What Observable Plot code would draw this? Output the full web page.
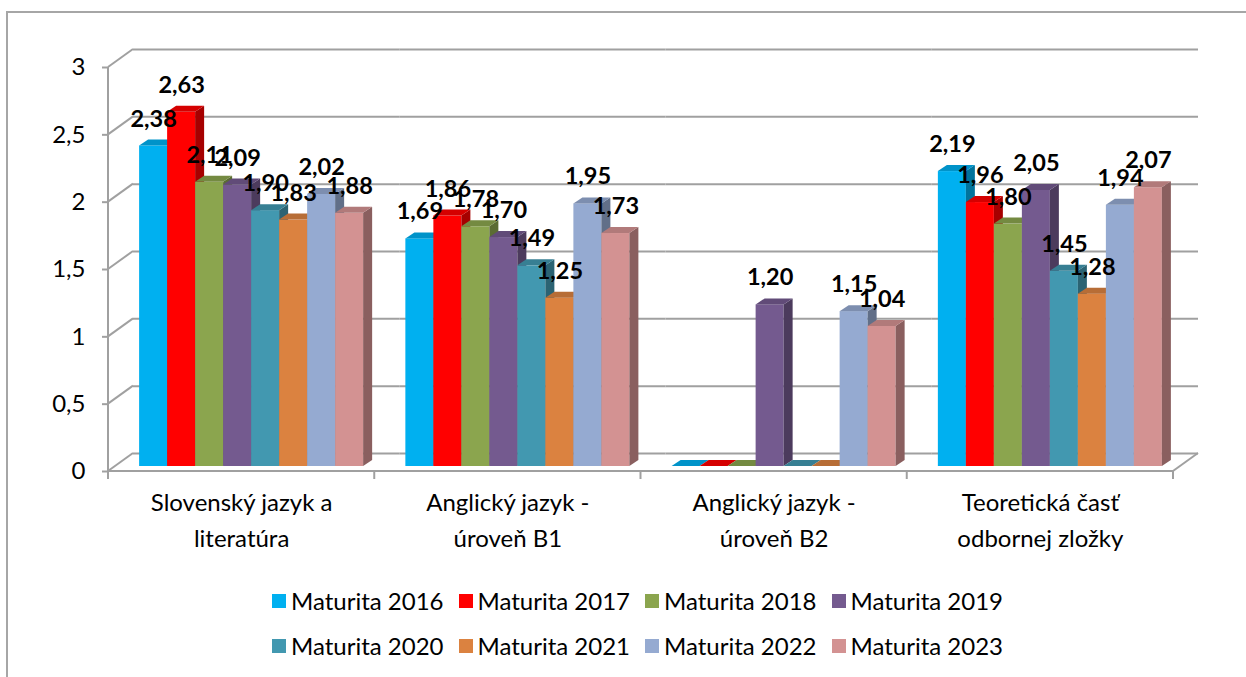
<!DOCTYPE html>
<html>
<head>
<meta charset="utf-8">
<script src="https://cdn.jsdelivr.net/npm/d3@7"></script>
<script src="https://cdn.jsdelivr.net/npm/@observablehq/plot@0.6"></script>
<style>
  html, body { margin: 0; padding: 0; background: #fff; overflow: hidden; }
  body { width: 1246px; height: 677px; position: relative; font-family: Lato, "Open Sans", sans-serif; }
  #frame { position: absolute; left: 6px; top: 11px; width: 1300px; height: 700px;
           border-left: 2px solid #a6a6a6; border-top: 2px solid #a6a6a6; }
  #chart { position: absolute; left: 0; top: 0; }
  #legend { position: absolute; left: 272px; top: 578px; display: grid;
            grid-template-columns: repeat(4, 186.5px); grid-auto-rows: 45px; }
  .item { display: flex; align-items: center; font-size: 24px; color: #000; white-space: nowrap; }
  .sw { width: 14px; height: 14px; margin-right: 5px; flex: none; }
</style>
</head>
<body>
<div id="frame"></div>
<div id="chart"></div>
<div id="legend"></div>
<script>
const categories = [
  "Slovenský jazyk a literatúra",
  "Anglický jazyk - úroveň B1",
  "Anglický jazyk - úroveň B2",
  "Teoretická časť odbornej zložky"
];
const categoryLabels = [
  "Slovenský jazyk a\nliteratúra",
  "Anglický jazyk -\núroveň B1",
  "Anglický jazyk -\núroveň B2",
  "Teoretická časť\nodbornej zložky"
];
const series = ["Maturita 2016", "Maturita 2017", "Maturita 2018", "Maturita 2019",
                "Maturita 2020", "Maturita 2021", "Maturita 2022", "Maturita 2023"];
const colors = ["#00B0F0", "#FF0000", "#8BA54E", "#745A8F", "#4298B0", "#DB8240", "#95AAD1", "#D39292"];

const v2016 = [2.38, 1.69, 0, 2.19];
const v2017 = [2.63, 1.86, 0, 1.96];
const v2018 = [2.11, 1.78, 0, 1.80];
const v2019 = [2.09, 1.70, 1.20, 2.05];
const v2020 = [1.90, 1.49, 0, 1.45];
const v2021 = [1.83, 1.25, 0, 1.28];
const v2022 = [2.02, 1.95, 1.15, 1.94];
const v2023 = [1.88, 1.73, 1.04, 2.07];
const seriesValues = [v2016, v2017, v2018, v2019, v2020, v2021, v2022, v2023];

const yTicks = [0, 0.5, 1, 1.5, 2, 2.5, 3];

const table = [];
categories.forEach((c, ci) => {
  series.forEach((s, si) => {
    table.push({category: c, series: s, value: seriesValues[si][ci]});
  });
});

const fmtTick = d => String(d).replace(".", ",");
const fmtVal = d => d.toFixed(2).replace(".", ",");

const GRID = "#a0a0a0";
const BACK = [25, -18];   // depth of back wall
const BAR = [10, -5];     // bar offset from front plane
const DEPTH = [9, -6];    // bar 3D depth

const chart = Plot.plot({
  width: 1246,
  height: 580,
  marginLeft: 108,
  marginRight: 73,
  marginTop: 67,
  marginBottom: 109,
  style: {fontFamily: "Lato, 'Open Sans', sans-serif", background: "transparent", overflow: "visible", color: "#000"},
  facet: {marginTop: 0, marginRight: 0, marginBottom: 0, marginLeft: 0},
  fx: {domain: categories, padding: 0, axis: null, round: false},
  x: {domain: series, paddingInner: 0, paddingOuter: 0.754, axis: null, round: false},
  y: {domain: [0, 3], label: null},
  color: {domain: series, range: colors},
  marks: [
    Plot.ruleY(yTicks, {dx: BACK[0], dy: BACK[1], stroke: GRID, strokeWidth: 2}),
    Plot.axisY(yTicks, {tickSize: 6, tickPadding: 17, fontSize: 24, tickFormat: fmtTick,
                        stroke: GRID, strokeWidth: 2, fill: "#000", label: null}),
    Plot.barY(table, {fx: "category", x: "series", y: "value", fill: "series", dx: BAR[0], dy: BAR[1]}),
    Plot.text(table.filter(d => d.value > 0), {
      fx: "category", x: "series", y: "value", text: d => fmtVal(d.value),
      dx: BAR[0], dy: BAR[1] - 27, fontWeight: "bold", fontSize: 23.5, fill: "#000"
    }),
    Plot.text(categories, {
      fx: d => d, text: (d, i) => categoryLabels[i], frameAnchor: "bottom",
      dy: 75, lineHeight: 1.5, fontSize: 24, fill: "#000"
    })
  ]
});

// 3D faces for bars, derived from the rendered bar rectangles
const ns = "http://www.w3.org/2000/svg";
chart.querySelectorAll('g[aria-label="bar"] rect').forEach(r => {
  const x = +r.getAttribute("x"), y = +r.getAttribute("y");
  const w = +r.getAttribute("width"), h = +r.getAttribute("height");
  const c = d3.color(r.getAttribute("fill"));
  const [dx, dy] = DEPTH;
  const side = document.createElementNS(ns, "polygon");
  side.setAttribute("points", `${x + w},${y} ${x + w + dx},${y + dy} ${x + w + dx},${y + h + dy} ${x + w},${y + h}`);
  side.setAttribute("fill", c.darker(1.2).formatHex());
  const top = document.createElementNS(ns, "polygon");
  top.setAttribute("points", `${x},${y} ${x + w},${y} ${x + w + dx},${y + dy} ${x + dx},${y + dy}`);
  top.setAttribute("fill", c.darker(0.5).formatHex());
  r.after(side, top);
});

// 3D frame lines (side wall, floor, axis), from the Plot scales
const ys = chart.scale("y"), fxs = chart.scale("fx");
const L = fxs.apply(categories[0]);
const R = fxs.apply(categories[categories.length - 1]) + fxs.bandwidth;
const y0 = ys.apply(0), yTop = ys.apply(3);
const segs = [];
yTicks.forEach(t => segs.push([L, ys.apply(t), L + BACK[0], ys.apply(t) + BACK[1]]));
segs.push([L, yTop, L, y0]);
segs.push([L, y0, R, y0]);
segs.push([R, y0, R + BACK[0], y0 + BACK[1]]);
categories.forEach(c => segs.push([fxs.apply(c), y0, fxs.apply(c), y0 + 8]));
segs.push([R, y0, R, y0 + 8]);
const g = d3.select(chart).insert("g", "g");
g.selectAll("line").data(segs).join("line")
  .attr("x1", d => d[0]).attr("y1", d => d[1]).attr("x2", d => d[2]).attr("y2", d => d[3])
  .attr("stroke", GRID).attr("stroke-width", 2);

document.getElementById("chart").appendChild(chart);

// legend
const legend = d3.select("#legend");
series.forEach((s, i) => {
  const it = legend.append("div").attr("class", "item");
  it.append("div").attr("class", "sw").style("background", colors[i]);
  it.append("span").text(s);
});
</script>
</body>
</html>
